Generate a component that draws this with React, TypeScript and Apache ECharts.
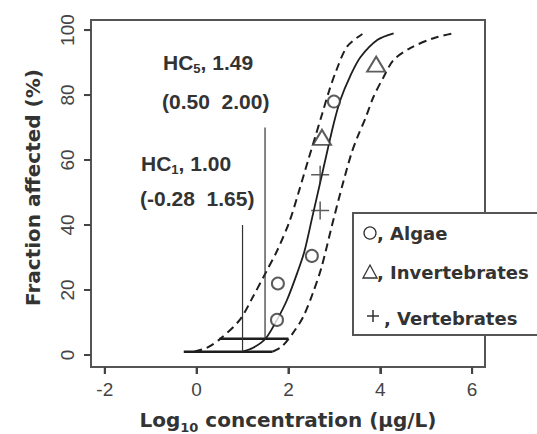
import React, { useEffect, useRef } from "react";
import * as echarts from "echarts";

// Fitted species sensitivity curve (log10 conc, % affected)
const fitX = [1.0, 1.23, 1.5, 1.75, 1.97, 2.21, 2.35, 2.52, 2.69, 2.85, 2.99, 3.13, 3.35, 3.57, 3.94, 4.29];
const fitY = [1, 2.2, 5, 10.8, 17, 26, 32, 42.5, 53, 63, 71.5, 78.5, 86, 91.7, 97, 99];
// Lower confidence curve (left dashed)
const lowX = [-0.05, 0.22, 0.5, 0.94, 1.23, 1.53, 1.75, 2.02, 2.22, 2.43, 2.58, 2.74, 2.89, 3.04, 3.28, 3.61];
const lowY = [1, 2.2, 4.8, 10.8, 18, 26, 32, 41, 50, 60, 67, 74.5, 81.5, 87.5, 95, 98.8];
// Upper confidence curve (right dashed)
const upX = [1.65, 1.85, 2.1, 2.32, 2.53, 2.72, 2.95, 3.17, 3.37, 3.5, 3.68, 3.85, 4.07, 4.29, 4.66, 5.16, 5.6];
const upY = [1, 2.5, 6.8, 11.7, 19, 27, 40, 52, 62, 67, 73, 79.4, 85.5, 90.8, 94.5, 97.5, 99];

// Species points
const algaeX = [1.77, 1.75, 2.51, 2.99];
const algaeY = [22, 10.8, 30.5, 78];
const invertX = [2.73, 3.91];
const invertY = [67, 89.5];
const vertX = [2.69, 2.69];
const vertY = [55.5, 44.5];

// Hazardous concentrations [estimate, lower, upper]
const hc1 = [1.0, -0.28, 1.65];
const hc5 = [1.49, 0.5, 2.0];

const xTicks = [-2, 0, 2, 4, 6];
const yTicks = [0, 20, 40, 60, 80, 100];

const X_MIN = -2.3;
const X_MAX = 6.28;
const Y_MIN = -3.7;
const Y_MAX = 103.1;

const FONT = "Liberation Sans, Arial, sans-serif";
const WIDE = "DejaVu Sans, sans-serif";
const INK = "#1e1e1e";
const TICK = "#444";

const zip = (xs: number[], ys: number[]) => xs.map((x, i) => [x, ys[i]]);

export default function App() {
  const ref = useRef<HTMLDivElement>(null);
  useEffect(() => {
    if (!ref.current) return;
    const chart = echarts.init(ref.current, null, { renderer: "svg" });
    const annRich = {
      a: { fontFamily: FONT, fontWeight: "bold", fontSize: 21, lineHeight: 26, color: "#333" },
      s: { fontFamily: FONT, fontWeight: "bold", fontSize: 13, lineHeight: 26, verticalAlign: "bottom", color: "#333" },
    };
    const annText = (x: number, y: number, text: string) => ({
      type: "text",
      x,
      y,
      z: 50,
      style: { text, rich: annRich, verticalAlign: "middle", align: "left", fill: "#333", font: `bold 21px ${FONT}` },
    });
    const legendText = (x: number, y: number, text: string) => ({
      type: "text",
      x,
      y,
      z: 101,
      style: { text, fill: "#333", font: `bold 18px ${WIDE}`, verticalAlign: "middle", align: "left" },
    });
    const sym = { color: "#333", borderWidth: 1.3 };
    const gap = "\u00a0\u00a0";
    const axisLine = { show: true, onZero: false, lineStyle: { color: "#555", width: 2 } };
    chart.setOption({
      animation: false,
      grid: {
        left: 91,
        right: 52,
        top: 20,
        bottom: 67,
        show: true,
        borderColor: "#555",
        borderWidth: 2,
        containLabel: false,
        outerBoundsMode: "none",
      },
      xAxis: {
        type: "value",
        min: X_MIN,
        max: X_MAX,
        axisLine,
        splitLine: { show: false },
        axisTick: { show: true, inside: false, length: 7, customValues: xTicks, lineStyle: { color: TICK, width: 2 } },
        axisLabel: { customValues: xTicks, fontSize: 19, color: "#444", fontFamily: FONT, margin: 13 },
        name: "{b|Log}{s|10}{b| concentration (μg/L)}",
        nameLocation: "middle",
        nameGap: 39,
        nameTextStyle: {
          rich: {
            b: { fontFamily: WIDE, fontWeight: "bold", color: "#333", fontSize: 20, lineHeight: 28 },
            s: { fontFamily: WIDE, fontWeight: "bold", color: "#333", fontSize: 13, lineHeight: 28, verticalAlign: "bottom" },
          },
        },
      },
      yAxis: {
        type: "value",
        min: Y_MIN,
        max: Y_MAX,
        axisLine,
        splitLine: { show: false },
        axisTick: { show: true, inside: false, length: 7, customValues: yTicks, lineStyle: { color: TICK, width: 2 } },
        axisLabel: { customValues: yTicks, fontSize: 19, color: "#444", fontFamily: FONT, margin: 14, rotate: 90 },
        name: "Fraction affected (%)",
        nameLocation: "middle",
        nameGap: 48,
        nameTextStyle: { fontFamily: WIDE, fontWeight: "bold", color: "#333", fontSize: 20, padding: [0, 0, 0, 12] },
      },
      series: [
        { type: "line", data: zip(fitX, fitY), showSymbol: false, smooth: 0.3, lineStyle: { color: INK, width: 1.8 }, z: 3 },
        { type: "line", data: zip(lowX, lowY), showSymbol: false, smooth: 0.3, lineStyle: { color: INK, width: 2, type: [8, 5] }, z: 3 },
        { type: "line", data: zip(upX, upY), showSymbol: false, smooth: 0.3, lineStyle: { color: INK, width: 2, type: [8, 5] }, z: 3 },
        { type: "line", data: [[hc1[1], 1], [hc1[2], 1]], showSymbol: false, lineStyle: { color: INK, width: 2.5 }, z: 3 },
        { type: "line", data: [[hc5[1], 5], [hc5[2], 5]], showSymbol: false, lineStyle: { color: INK, width: 2.5 }, z: 3 },
        { type: "line", data: [[hc1[0], 1], [hc1[0], 40]], showSymbol: false, lineStyle: { color: "#333", width: 1.2 }, z: 3 },
        { type: "line", data: [[hc5[0], 5], [hc5[0], 70]], showSymbol: false, lineStyle: { color: "#333", width: 1.2 }, z: 3 },
        { type: "scatter", name: "Algae", data: zip(algaeX, algaeY), symbol: "emptyCircle", symbolSize: 12, itemStyle: sym, z: 5 },
        { type: "scatter", name: "Invertebrates", data: zip(invertX, invertY), symbol: "emptyTriangle", symbolSize: [18, 15], itemStyle: sym, z: 5 },
        {
          type: "scatter",
          name: "Vertebrates",
          data: zip(vertX, vertY),
          symbol: "path://M0,9H18M9,0V18",
          symbolSize: 18,
          itemStyle: { color: "none", borderColor: "#333", borderWidth: 1.5 },
          z: 5,
        },
        // outward tick marks on the x axis (R style)
        {
          type: "custom",
          silent: true,
          clip: false,
          z: 10,
          data: xTicks.map((v) => [v, Y_MIN]),
          renderItem: (_p: any, api: any) => {
            const c = api.coord([api.value(0), api.value(1)]);
            return { type: "line", shape: { x1: c[0], y1: c[1], x2: c[0], y2: c[1] + 7 }, style: { stroke: TICK, lineWidth: 2 } };
          },
        },
        // outward tick marks on the y axis
        {
          type: "custom",
          silent: true,
          clip: false,
          z: 10,
          data: yTicks.map((v) => [X_MIN, v]),
          renderItem: (_p: any, api: any) => {
            const c = api.coord([api.value(0), api.value(1)]);
            return { type: "line", shape: { x1: c[0], y1: c[1], x2: c[0] - 7, y2: c[1] }, style: { stroke: TICK, lineWidth: 2 } };
          },
        },
      ],
      graphic: [
        annText(163, 62, `{a|HC}{s|5}{a|, ${hc5[0].toFixed(2)}}`),
        annText(162, 101, `{a|(${hc5[1].toFixed(2)}${gap}${hc5[2].toFixed(2)})}`),
        annText(141, 163, `{a|HC}{s|1}{a|, ${hc1[0].toFixed(2)}}`),
        annText(140, 198, `{a|(${hc1[1].toFixed(2)}${gap}${hc1[2].toFixed(2)})}`),
        { type: "rect", z: 100, shape: { x: 353, y: 213, width: 200, height: 122 }, style: { fill: "#fff", stroke: "#555", lineWidth: 2 } },
        { type: "circle", z: 101, shape: { cx: 370, cy: 233, r: 6 }, style: { fill: "none", stroke: "#333", lineWidth: 1.3 } },
        { type: "polygon", z: 101, shape: { points: [[363, 278], [377, 278], [370, 265]] }, style: { fill: "none", stroke: "#333", lineWidth: 1.3 } },
        { type: "line", z: 101, shape: { x1: 367, y1: 316, x2: 379, y2: 316 }, style: { stroke: "#333", lineWidth: 1.5 } },
        { type: "line", z: 101, shape: { x1: 373, y1: 310, x2: 373, y2: 322 }, style: { stroke: "#333", lineWidth: 1.5 } },
        legendText(377, 233, ", Algae"),
        legendText(377, 272, ", Invertebrates"),
        legendText(384, 318, ", Vertebrates"),
      ],
    });
    return () => chart.dispose();
  }, []);
  return <div ref={ref} style={{ width: 537, height: 434, position: "absolute", left: 0, top: 0 }} />;
}
